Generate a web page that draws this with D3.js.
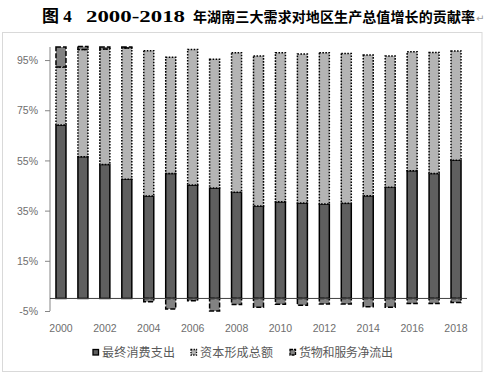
<!DOCTYPE html>
<html><head><meta charset="utf-8">
<script src="https://cdn.jsdelivr.net/npm/d3@7"></script>
<style>body{margin:0;background:#fff;}svg{display:block;}</style>
</head><body>
<svg id="c" width="488" height="373"></svg>
<script>
const years = ["2000","2001","2002","2003","2004","2005","2006","2007","2008","2009","2010","2011","2012","2013","2014","2015","2016","2017","2018"];
const consumption = [69.1,56.5,53.4,47.5,40.8,49.8,45.2,44.0,42.3,36.8,38.5,38.0,37.6,37.9,40.9,44.3,50.9,49.8,55.1];
const capital = [23.1,42.7,46.0,52.3,57.9,46.3,54.0,51.3,55.6,59.8,59.4,59.4,60.3,59.7,56.1,52.3,47.4,48.2,43.5];
const netExports = [8.0,1.2,0.8,0.4,-1.3,-4.2,-0.9,-5.0,-2.4,-3.5,-2.3,-2.7,-2.2,-2.2,-3.3,-3.5,-2.0,-2.0,-1.6];
const seriesNames = ["最终消费支出","资本形成总额","货物和服务净流出"];
const yTicks = [-5,15,35,55,75,95];
const xLabelYears = years.filter((d,i)=>i%2===0);

const svg = d3.select("#c");
// outer frame
svg.append("rect").attr("x",2.5).attr("y",32.5).attr("width",479.5).attr("height",339)
  .attr("fill","none").attr("stroke","#d9d9d9");

// title
const t = svg.append("text").attr("y",22).attr("font-family","'Noto Sans CJK SC'")
  .attr("font-weight","bold").attr("fill","#000");
t.append("tspan").attr("x",42).attr("font-family","'Liberation Serif','Noto Sans CJK SC'").attr("font-size",17).text("图 4");
t.append("tspan").attr("x",86).attr("font-family","'Liberation Serif'").attr("font-size",17)
  .attr("textLength",99).attr("lengthAdjust","spacingAndGlyphs").text("2000-2018");
t.append("tspan").attr("x",193).attr("font-size",14).attr("textLength",282).text("年湖南三大需求对地区生产总值增长的贡献率");
svg.append("text").attr("x",476).attr("y",22).attr("font-size",10).attr("fill","#999")
  .attr("font-family","'DejaVu Sans'").text("↵");

const x = d3.scaleBand().domain(years).range([50,467]).padding(0);
const y = d3.scaleLinear().domain([-5,100.2]).range([311,47]);
const barW = 10;

const table = years.map((yr,i)=>({year:yr, c:consumption[i], k:capital[i], n:netExports[i]}));
const stack = d3.stack().keys(["c","k","n"]).offset(d3.stackOffsetDiverging);
const layers = stack(table);

const styles = {
  c:{fill:"#5f5f5f", dash:null},
  k:{fill:"#b4b4b4", dash:"1.6 1.4"},
  n:{fill:"#828282", dash:"5 2"}
};

// y axis
const yAxis = d3.axisLeft(y).tickValues(yTicks).tickSize(5).tickFormat(d=>d+"%");
const ya = svg.append("g").attr("transform","translate(50,0)").call(yAxis);
ya.select(".domain").attr("stroke","#868686").attr("d","M0,47V311");
ya.selectAll(".tick line").attr("stroke","#868686");
ya.selectAll(".tick text").attr("fill","#6e6e6e").attr("font-family","'Liberation Sans'")
  .attr("font-size",10.5).attr("x",-12).attr("dy","0.35em");

// bars
layers.forEach(layer=>{
  const st = styles[layer.key];
  svg.append("g").selectAll("rect").data(layer).join("rect")
    .attr("x",d=>x(d.data.year)+(x.bandwidth()-barW)/2)
    .attr("y",d=>y(Math.max(d[0],d[1])))
    .attr("width",barW)
    .attr("height",d=>Math.abs(y(d[0])-y(d[1])))
    .attr("fill",st.fill).attr("stroke","#000").attr("stroke-width",1.5)
    .attr("stroke-dasharray",st.dash);
});

// zero line
svg.append("line").attr("x1",50).attr("x2",467).attr("y1",y(0)).attr("y2",y(0))
  .attr("stroke","#404040").attr("stroke-width",1);

// x labels
const xAxis = d3.axisBottom(x).tickValues(xLabelYears).tickSize(0);
const xa = svg.append("g").attr("transform","translate(0,321)").call(xAxis);
xa.select(".domain").remove();
xa.selectAll(".tick text").attr("fill","#6e6e6e").attr("font-family","'Liberation Sans'")
  .attr("font-size",10.5).attr("dy","0.75em");

// legend
const legX = [93,191,290];
const legLen = [73,73,94];
const lg = svg.append("g");
seriesNames.forEach((name,i)=>{
  const key = ["c","k","n"][i];
  const st = styles[key];
  lg.append("rect").attr("x",legX[i]).attr("y",349.5).attr("width",5.5).attr("height",5.5)
    .attr("fill",st.fill).attr("stroke","#000").attr("stroke-width",1.3)
    .attr("stroke-dasharray",st.dash ? (key==="k"?"1.3 1.3":"3 1"):null);
  lg.append("text").attr("x",legX[i]+9).attr("y",356.5).attr("font-size",12)
    .attr("font-family","'Noto Sans CJK SC'").attr("fill","#595959")
    .attr("textLength",legLen[i]).text(name);
});
</script>
</body></html>
